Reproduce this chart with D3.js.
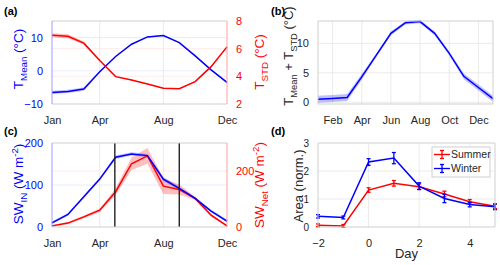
<!DOCTYPE html>
<html>
<head>
<script src="https://cdnjs.cloudflare.com/ajax/libs/d3/7.8.5/d3.min.js"></script>
<style>
  body { margin: 0; background: #fff; }
  text { font-family: "Liberation Sans", Arial, sans-serif; }
</style>
</head>
<body>
<div id="fig"></div>
<script>
// ---- data ----
const months = [1, 2, 3, 4, 5, 6, 7, 8, 9, 10, 11, 12];
const tMean = [-6.5, -6.2, -5.5, -0.3, 4.3, 8.0, 10.2, 10.6, 8.5, 4.5, 0.3, -3.5];
const tMeanErr = [0.5, 0.5, 0.5, 0.2, 0.15, 0.15, 0.15, 0.15, 0.15, 0.15, 0.15, 0.2];
const tStd = [6.97, 6.9, 6.4, 5.15, 3.98, 3.74, 3.45, 3.14, 3.1, 3.62, 4.7, 6.13];
const tStdErr = [0.15, 0.15, 0.12, 0.05, 0.04, 0.04, 0.04, 0.04, 0.04, 0.04, 0.05, 0.06];

const monthsB = [1, 2, 3, 4, 5, 6, 7, 8, 9, 10, 11, 12, 13];
const tSum = [0.5, 0.65, 0.8, 4.3, 8.0, 11.7, 13.5, 13.7, 11.7, 8.3, 4.4, 2.5, 0.6];
const tSumErr = [0.6, 0.6, 0.6, 0.5, 0.3, 0.3, 0.3, 0.3, 0.3, 0.3, 0.5, 0.5, 0.5];

const swIn = [10, 30, 72, 114, 166, 174, 170, 114, 92, 68, 38, 14];
const swInErr = [3, 3, 3, 3, 4, 4, 4, 5, 4, 3, 3, 3];
const swNet = [4, 14, 36, 60, 126, 226, 254, 146, 134, 102, 42, 4];
const swNetErr = [3, 4, 5, 6, 12, 22, 28, 28, 18, 6, 5, 3];
const seasonLines = [4.95, 9];

const days = [-2, -1, 0, 1, 2, 3, 4, 5];
const summer = [0.06, 0.04, 1.32, 1.56, 1.44, 1.18, 0.9, 0.74];
const summerErr = [0.05, 0.05, 0.08, 0.1, 0.1, 0.1, 0.08, 0.08];
const winter = [0.38, 0.34, 2.32, 2.46, 1.46, 1.02, 0.8, 0.72];
const winterErr = [0.06, 0.05, 0.12, 0.2, 0.12, 0.15, 0.08, 0.1];

const monthNames = ['Jan','Feb','Mar','Apr','May','Jun','Jul','Aug','Sep','Oct','Nov','Dec','Jan'];

const BLUE = '#0000ff', RED = '#ff0000', INK = '#262626';
const W = 500, H = 265;
const fmt = d3.format('d');

const svg = d3.select('#fig').append('svg').attr('width', W).attr('height', H);

function gridX(g, x, ticks, y0, y1) {
  g.selectAll(null).data(ticks).enter().append('line')
    .attr('x1', d => x(d)).attr('x2', d => x(d)).attr('y1', y0).attr('y2', y1)
    .attr('stroke', '#e6e6e6').attr('stroke-width', 0.8);
}
function gridY(g, y, ticks, x0, x1, col) {
  g.selectAll(null).data(ticks).enter().append('line')
    .attr('x1', x0).attr('x2', x1).attr('y1', d => y(d)).attr('y2', d => y(d))
    .attr('stroke', col).attr('stroke-width', 0.8);
}
function band(g, x, y, xs, ys, es, col, op) {
  const area = d3.area().x((d, i) => x(xs[i])).y0((d, i) => y(ys[i] - es[i])).y1((d, i) => y(ys[i] + es[i]));
  g.append('path').attr('d', area(ys)).attr('fill', col).attr('fill-opacity', op);
}
function line(g, x, y, xs, ys, col) {
  const l = d3.line().x((d, i) => x(xs[i])).y(d => y(d));
  g.append('path').attr('d', l(ys)).attr('fill', 'none').attr('stroke', col).attr('stroke-width', 1.5);
}
function styleAxis(a, col, size) {
  a.select('.domain').remove();
  a.selectAll('.tick line').remove();
  a.selectAll('.tick text').attr('fill', col).attr('font-size', size);
}
function box(g, x0, x1, y0, y1, lc, rc) {
  g.append('line').attr('x1', x0).attr('x2', x1).attr('y1', y0).attr('y2', y0).attr('stroke', '#cfcfcf');
  g.append('line').attr('x1', x0).attr('x2', x1).attr('y1', y1).attr('y2', y1).attr('stroke', '#cfcfcf');
  g.append('line').attr('x1', x0).attr('x2', x0).attr('y1', y0).attr('y2', y1).attr('stroke', lc);
  g.append('line').attr('x1', x1).attr('x2', x1).attr('y1', y0).attr('y2', y1).attr('stroke', rc);
}
function vlabel(cx, cy, parts, col, size) {
  const t = svg.append('text').attr('transform', `translate(${cx},${cy}) rotate(-90)`)
    .attr('text-anchor', 'middle').attr('fill', col).attr('font-size', size);
  parts.forEach(p => {
    const s = t.append('tspan').text(p.t);
    if (p.sub) s.attr('font-size', size * 0.72).attr('dy', size * 0.3);
    if (p.sup) s.attr('font-size', size * 0.72).attr('dy', -size * 0.4);
    if (p.back) s.attr('dy', p.back);
  });
  return t;
}
function panelLabel(x, y, s) {
  svg.append('text').attr('x', x).attr('y', y).attr('font-size', 11).attr('font-weight', 'bold').attr('fill', '#000').text(s);
}

// ---- panel (a) ----
{
  const L = 52, R = 227, T = 21, B = 104;
  const x = d3.scaleLinear().domain([1, 12]).range([L, R]);
  const yl = d3.scaleLinear().domain([-10, 15]).range([B, T]);
  const yr = d3.scaleLinear().domain([2, 8]).range([B, T]);
  const g = svg.append('g');
  gridX(g, x, [4, 8], T, B);
  gridY(g, yl, [0, 10], L, R, '#e6e6ff');
  gridY(g, yr, [4, 6], L, R, '#ffe6e6');
  band(g, x, yl, months, tMean, tMeanErr, BLUE, 0.25);
  band(g, x, yr, months, tStd, tStdErr, RED, 0.25);
  line(g, x, yl, months, tMean, BLUE);
  line(g, x, yr, months, tStd, RED);
  box(g, L, R, T, B, '#9c9cff', '#ffa0a0');
  const ax = g.append('g').attr('transform', `translate(0,${B})`)
    .call(d3.axisBottom(x).tickValues([1, 4, 8, 12]).tickFormat(d => monthNames[d - 1]).tickPadding(6));
  styleAxis(ax, INK, 11);
  const al = g.append('g').attr('transform', `translate(${L},0)`)
    .call(d3.axisLeft(yl).tickValues([-10, 0, 10]).tickFormat(fmt).tickPadding(3));
  styleAxis(al, BLUE, 11);
  const ar = g.append('g').attr('transform', `translate(${R},0)`)
    .call(d3.axisRight(yr).tickValues([2, 4, 6, 8]).tickFormat(fmt).tickPadding(3));
  styleAxis(ar, RED, 11);
  vlabel(23, 59, [{t: 'T'}, {t: 'Mean', sub: true}, {t: ' (°C)', back: -13.5 * 0.3}], BLUE, 13.5);
  vlabel(264, 62, [{t: 'T'}, {t: 'STD', sub: true}, {t: ' (°C)', back: -13.5 * 0.3}], RED, 13.5);
  panelLabel(4, 15, '(a)');
}

// ---- panel (b) ----
{
  const L = 318, R = 493, T = 21, B = 104;
  const x = d3.scaleLinear().domain([1, 13]).range([L, R]);
  const y = d3.scaleLinear().domain([-0.3, 13.8]).range([B, T]);
  const g = svg.append('g');
  gridX(g, x, [2, 4, 6, 8, 10, 12], T, B);
  gridY(g, y, [0, 5, 10], L, R, '#e6e6e6');
  band(g, x, y, monthsB, tSum, tSumErr, BLUE, 0.25);
  line(g, x, y, monthsB, tSum, BLUE);
  box(g, L, R, T, B, '#cfcfcf', '#cfcfcf');
  const ax = g.append('g').attr('transform', `translate(0,${B})`)
    .call(d3.axisBottom(x).tickValues([2, 4, 6, 8, 10, 12]).tickFormat(d => monthNames[d - 1]).tickPadding(6));
  styleAxis(ax, INK, 11);
  const al = g.append('g').attr('transform', `translate(${L},0)`)
    .call(d3.axisLeft(y).tickValues([0, 5, 10]).tickFormat(fmt).tickPadding(3));
  styleAxis(al, INK, 11);
  vlabel(293, 56, [{t: 'T'}, {t: 'Mean', sub: true}, {t: ' + T', back: -13 * 0.3}, {t: 'STD', sub: true}, {t: ' (°C)', back: -13 * 0.3}], INK, 13);
  panelLabel(271, 15, '(b)');
}

// ---- panel (c) ----
{
  const L = 52, R = 227, T = 143, B = 227;
  const x = d3.scaleLinear().domain([1, 12]).range([L, R]);
  const yl = d3.scaleLinear().domain([0, 200]).range([B, T]);
  const yr = d3.scaleLinear().domain([0, 300]).range([B, T]);
  const g = svg.append('g');
  gridX(g, x, [4, 8], T, B);
  gridY(g, yl, [100], L, R, '#e6e6ff');
  gridY(g, yr, [200], L, R, '#ffe6e6');
  band(g, x, yr, months, swNet, swNetErr, RED, 0.25);
  band(g, x, yl, months, swIn, swInErr, BLUE, 0.25);
  line(g, x, yr, months, swNet, RED);
  line(g, x, yl, months, swIn, BLUE);
  g.selectAll(null).data(seasonLines).enter().append('line')
    .attr('x1', d => x(d)).attr('x2', d => x(d)).attr('y1', T).attr('y2', B)
    .attr('stroke', '#222').attr('stroke-width', 1.4);
  box(g, L, R, T, B, '#9c9cff', '#ffa0a0');
  const ax = g.append('g').attr('transform', `translate(0,${B})`)
    .call(d3.axisBottom(x).tickValues([1, 4, 8, 12]).tickFormat(d => monthNames[d - 1]).tickPadding(6));
  styleAxis(ax, INK, 11);
  const al = g.append('g').attr('transform', `translate(${L},0)`)
    .call(d3.axisLeft(yl).tickValues([0, 100, 200]).tickFormat(fmt).tickPadding(3));
  styleAxis(al, BLUE, 11);
  const ar = g.append('g').attr('transform', `translate(${R},0)`)
    .call(d3.axisRight(yr).tickValues([0, 200]).tickFormat(fmt).tickPadding(3));
  styleAxis(ar, RED, 11);
  vlabel(23, 184, [{t: 'SW'}, {t: 'IN', sub: true}, {t: ' (W m', back: -13.5 * 0.3}, {t: '-2', sup: true}, {t: ')', back: 13.5 * 0.4}], BLUE, 13.5);
  vlabel(264, 185, [{t: 'SW'}, {t: 'Net', sub: true}, {t: ' (W m', back: -13.5 * 0.3}, {t: '-2', sup: true}, {t: ')', back: 13.5 * 0.4}], RED, 13.5);
  panelLabel(4, 135, '(c)');
}

// ---- panel (d) ----
{
  const L = 318, R = 495, T = 143, B = 227;
  const x = d3.scaleLinear().domain([-2, 5]).range([L, R]);
  const y = d3.scaleLinear().domain([0, 3]).range([B, T]);
  const g = svg.append('g');
  gridX(g, x, [0, 2, 4], T, B);
  gridY(g, y, [1, 2], L, R, '#e6e6e6');
  const series = [
    {name: 'Summer', v: summer, e: summerErr, col: RED},
    {name: 'Winter', v: winter, e: winterErr, col: BLUE}
  ];
  series.forEach(s => {
    line(g, x, y, days, s.v, s.col);
    days.forEach((d, i) => {
      const cx = x(d), y0 = y(s.v[i] - s.e[i]), y1 = y(s.v[i] + s.e[i]);
      g.append('line').attr('x1', cx).attr('x2', cx).attr('y1', y0).attr('y2', y1).attr('stroke', s.col).attr('stroke-width', 1.3);
      [y0, y1].forEach(yy => g.append('line').attr('x1', cx - 2).attr('x2', cx + 2).attr('y1', yy).attr('y2', yy).attr('stroke', s.col).attr('stroke-width', 1.3));
    });
  });
  box(g, L, R, T, B, '#cfcfcf', '#cfcfcf');
  const ax = g.append('g').attr('transform', `translate(0,${B})`)
    .call(d3.axisBottom(x).tickValues([-2, 0, 2, 4]).tickFormat(fmt).tickPadding(6));
  styleAxis(ax, INK, 11);
  const al = g.append('g').attr('transform', `translate(${L},0)`)
    .call(d3.axisLeft(y).tickValues([0, 1, 2, 3]).tickFormat(fmt).tickPadding(3));
  styleAxis(al, INK, 10);
  vlabel(303, 186, [{t: 'Area (norm.)'}], INK, 13);
  svg.append('text').attr('x', (L + R) / 2).attr('y', 258).attr('text-anchor', 'middle')
    .attr('font-size', 13).attr('fill', INK).text('Day');
  // legend
  const lg = g.append('g').attr('transform', 'translate(432,147)');
  lg.append('rect').attr('width', 58).attr('height', 30).attr('fill', '#fff').attr('stroke', '#cfcfcf');
  series.forEach((s, i) => {
    const yy = 7.5 + i * 14;
    lg.append('line').attr('x1', 2).attr('x2', 18).attr('y1', yy).attr('y2', yy).attr('stroke', s.col).attr('stroke-width', 1.3);
    lg.append('line').attr('x1', 10).attr('x2', 10).attr('y1', yy - 4).attr('y2', yy + 4).attr('stroke', s.col).attr('stroke-width', 1.3);
    lg.append('line').attr('x1', 8).attr('x2', 12).attr('y1', yy - 4).attr('y2', yy - 4).attr('stroke', s.col).attr('stroke-width', 1.3);
    lg.append('line').attr('x1', 8).attr('x2', 12).attr('y1', yy + 4).attr('y2', yy + 4).attr('stroke', s.col).attr('stroke-width', 1.3);
    lg.append('text').attr('x', 19).attr('y', yy + 3.8).attr('font-size', 10.5).attr('fill', INK).text(s.name);
  });
  panelLabel(271, 135, '(d)');
}
</script>
</body>
</html>
